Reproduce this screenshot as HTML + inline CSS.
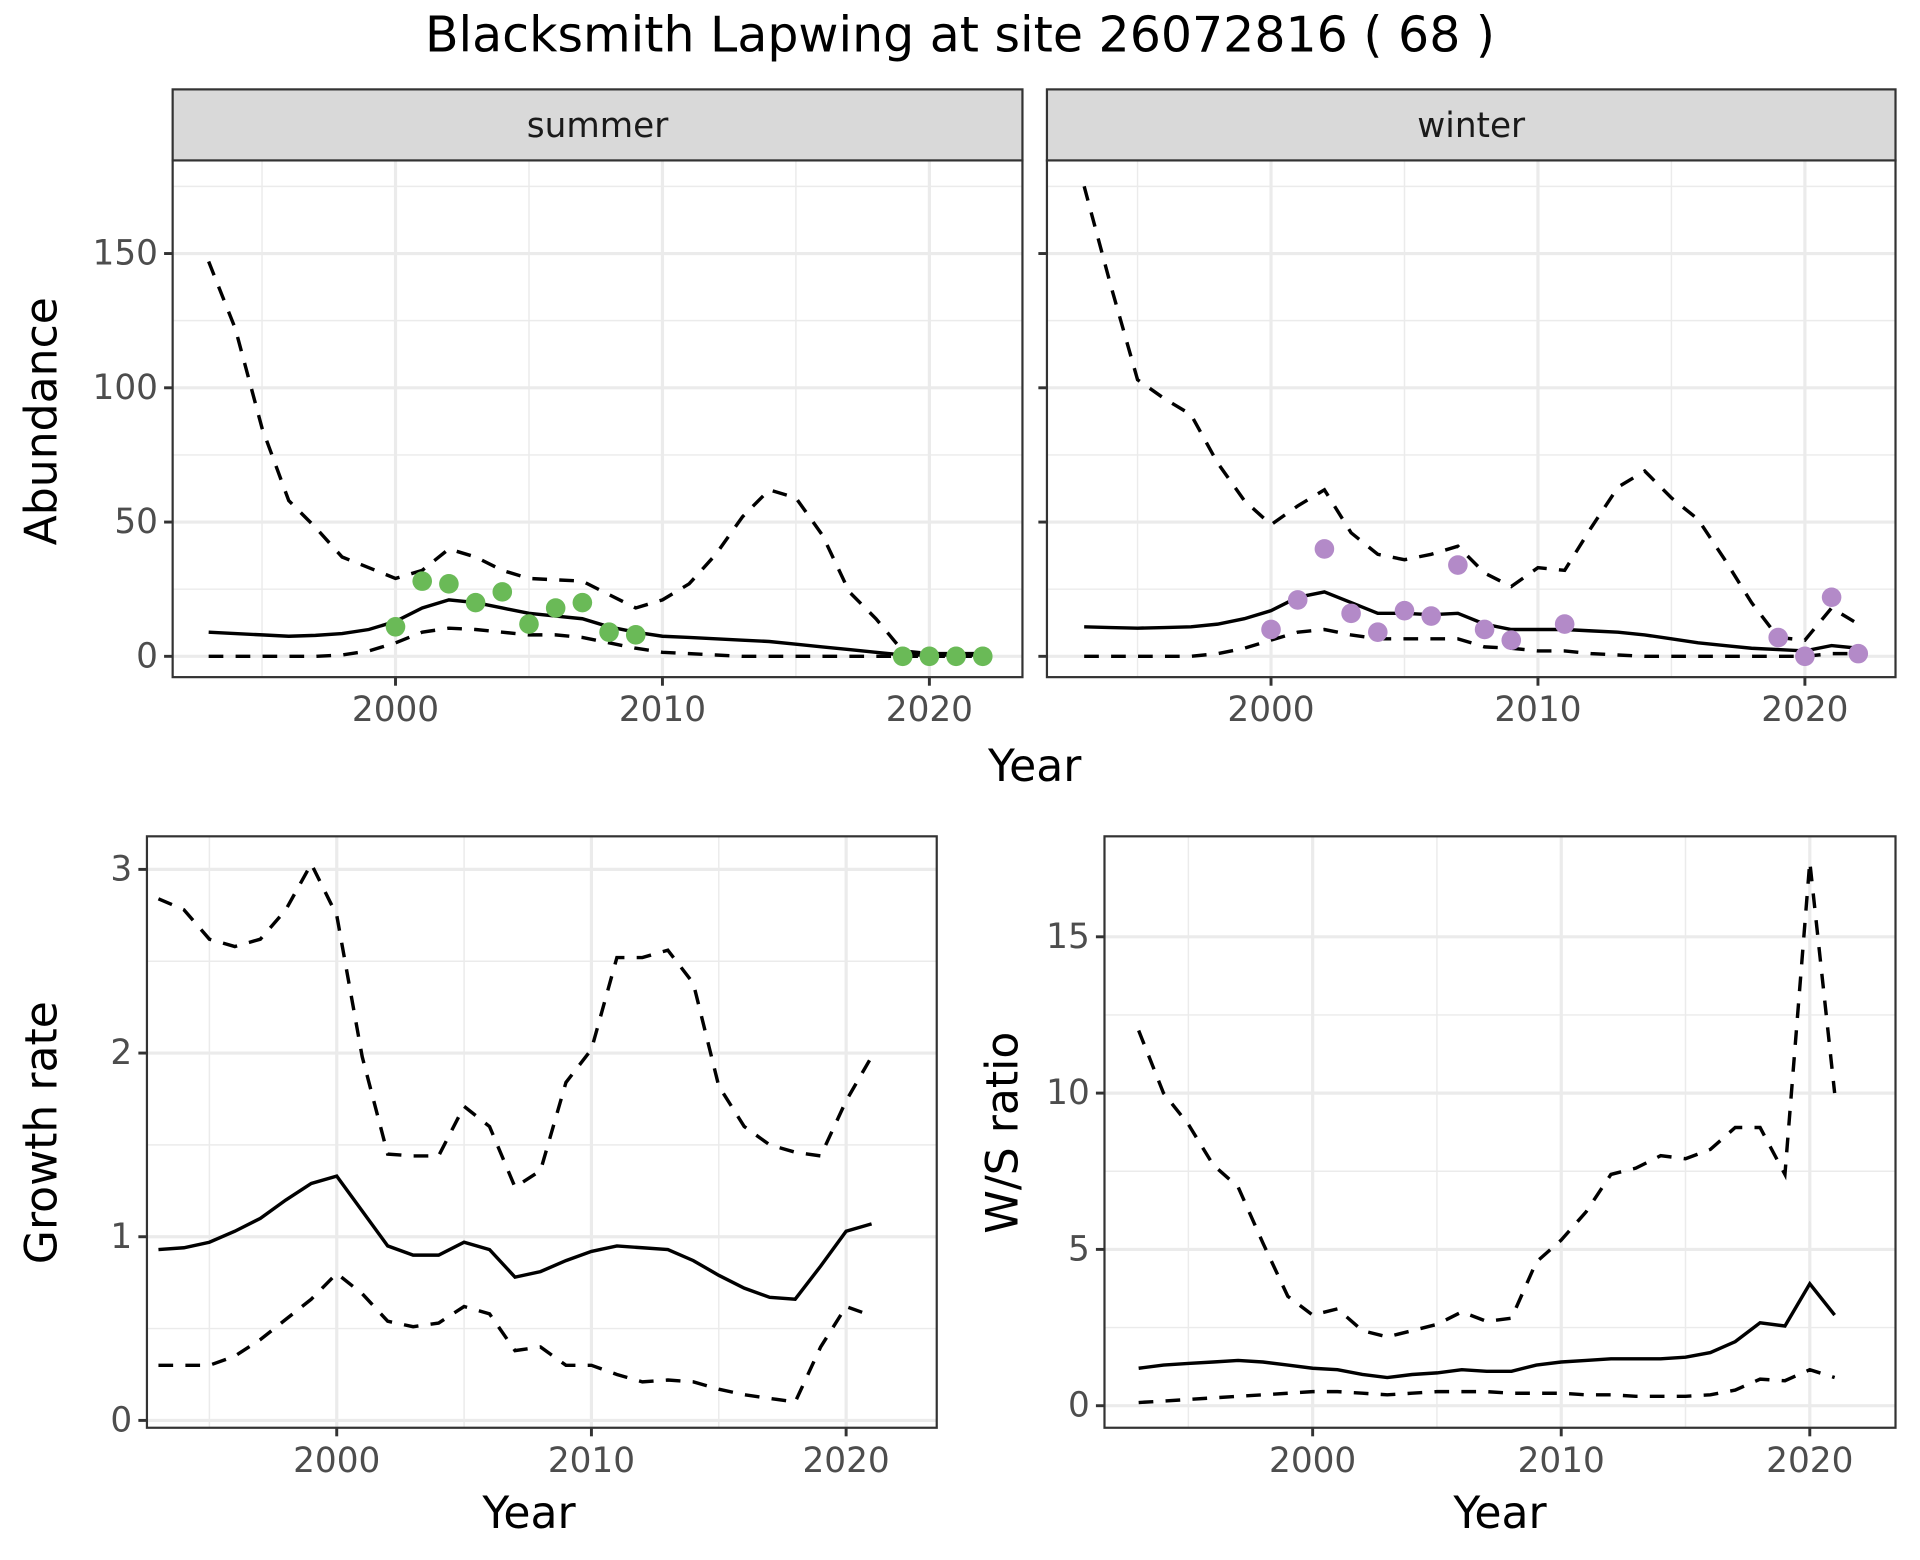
<!DOCTYPE html>
<html><head><meta charset="utf-8"><style>
html,body{margin:0;padding:0;background:#fff;}
svg{display:block;font-family:"DejaVu Sans","Liberation Sans",sans-serif;}
</style></head><body>
<svg id="chart" width="1920" height="1560" viewBox="0 0 1568 1274" preserveAspectRatio="none">
<text x="784" y="42" font-size="40" text-anchor="middle" fill="#000">Blacksmith Lapwing at site 26072816 ( 68 )</text>
</svg>
<script>
const yearsAb = [1993,1994,1995,1996,1997,1998,1999,2000,2001,2002,2003,2004,2005,2006,2007,2008,2009,2010,2011,2012,2013,2014,2015,2016,2017,2018,2019,2020,2021,2022];
const summerMean = [9,8.5,8,7.5,7.8,8.5,10,13,18,21,20,18,16,15,14,11,9,7.5,7,6.5,6,5.5,4.5,3.5,2.5,1.5,0.5,0.5,0.5,0.5];
const summerUpper = [147,122,85,58,48,37,33,29,32,40,37,32,29,28.5,28,23,18,21,27,38,52,62,59,45,24,14,2,1,1,1];
const summerLower = [0,0,0,0,0,0.5,2,5,9,10.5,10,9,8,8,7,5,3,1.5,1,0.5,0,0,0,0,0,0,0,0,0,0];
const summerObsYears = [2000,2001,2002,2003,2004,2005,2006,2007,2008,2009,2019,2020,2021,2022];
const summerObs = [11,28,27,20,24,12,18,20,9,8,0,0,0,0];
const winterMean = [11,10.7,10.5,10.7,11,12,14,17,22,24,20,16,16,15.5,16,12,10,10,10,9.5,9,8,6.5,5,4,3,2.5,2,4,3];
const winterUpper = [175,138,103,96,90,72,58,49,56,62,46,38,36,38,41,31,26,33,32,48,63,69,59,51,36,20,7,6,18,12];
const winterLower = [0,0,0,0,0,1,3,6,9,10,8,6.5,6.5,6.5,6.5,3.5,3,2,2,1,0.5,0,0,0,0,0,0,0,1,1];
const winterObsYears = [2000,2001,2002,2003,2004,2005,2006,2007,2008,2009,2011,2019,2020,2021,2022];
const winterObs = [10,21,40,16,9,17,15,34,10,6,12,7,0,22,1];
const yearsR = [1993,1994,1995,1996,1997,1998,1999,2000,2001,2002,2003,2004,2005,2006,2007,2008,2009,2010,2011,2012,2013,2014,2015,2016,2017,2018,2019,2020,2021];
const growthMean = [0.93,0.94,0.97,1.03,1.10,1.20,1.29,1.33,1.14,0.95,0.90,0.90,0.97,0.93,0.78,0.81,0.87,0.92,0.95,0.94,0.93,0.87,0.79,0.72,0.67,0.66,0.84,1.03,1.07];
const growthUpper = [2.84,2.78,2.62,2.58,2.62,2.78,3.03,2.75,1.98,1.45,1.44,1.44,1.71,1.60,1.27,1.36,1.84,2.02,2.52,2.52,2.56,2.38,1.82,1.60,1.50,1.46,1.44,1.74,1.98];
const growthLower = [0.30,0.30,0.30,0.35,0.44,0.55,0.66,0.80,0.69,0.54,0.51,0.53,0.62,0.58,0.38,0.40,0.30,0.30,0.25,0.21,0.22,0.21,0.17,0.14,0.12,0.10,0.40,0.62,0.57];
const ratioMean = [1.2,1.3,1.35,1.4,1.45,1.4,1.3,1.2,1.15,1.0,0.9,1.0,1.05,1.15,1.1,1.1,1.3,1.4,1.45,1.5,1.5,1.5,1.55,1.7,2.05,2.65,2.55,3.9,2.9];
const ratioUpper = [12,10,9,7.7,7,5.2,3.5,2.9,3.1,2.4,2.2,2.4,2.6,3.0,2.7,2.8,4.6,5.3,6.2,7.4,7.6,8.0,7.9,8.2,8.9,8.9,7.4,17.4,10];
const ratioLower = [0.1,0.15,0.2,0.25,0.3,0.35,0.4,0.45,0.45,0.4,0.35,0.4,0.45,0.45,0.45,0.4,0.4,0.4,0.35,0.35,0.3,0.3,0.3,0.35,0.5,0.85,0.8,1.15,0.9];
const xTicks = [2000,2010,2020];
const xMinor = [1995,2005,2015];
const abTicks = [0,50,100,150];
const abMinor = [25,75,125,175];
const grTicks = [0,1,2,3];
const grMinor = [0.5,1.5,2.5];
const raTicks = [0,5,10,15];
const raMinor = [2.5,7.5,12.5];

const NS="http://www.w3.org/2000/svg";
const svg=document.getElementById('chart');
function mk(tag,attrs,parent){const e=document.createElementNS(NS,tag);for(const k in attrs)e.setAttribute(k,attrs[k]);(parent||svg).appendChild(e);return e;}

function panel(p){
  const g=mk('g',{});
  
  
  const sx=v=>p.x0+(v-p.xr0)*p.xs, sy=v=>p.y0-(v-p.yr0)*p.ys;
  mk('rect',{x:p.l,y:p.t,width:p.r-p.l,height:p.b-p.t,fill:'#fff'},g);
  p.yMinor.forEach(v=>{const y=sy(v);if(y>p.t&&y<p.b)mk('line',{x1:p.l,x2:p.r,y1:y,y2:y,stroke:'#ebebeb','stroke-width':1.2},g);});
  xMinor.forEach(v=>mk('line',{x1:sx(v),x2:sx(v),y1:p.t,y2:p.b,stroke:'#ebebeb','stroke-width':1.2},g));
  p.yTicks.forEach(v=>mk('line',{x1:p.l,x2:p.r,y1:sy(v),y2:sy(v),stroke:'#ebebeb','stroke-width':2.6},g));
  xTicks.forEach(v=>mk('line',{x1:sx(v),x2:sx(v),y1:p.t,y2:p.b,stroke:'#ebebeb','stroke-width':2.6},g));
  const line=(ys,xs,dash,nm)=>{
    const d=ys.map((v,i)=>(i?'L':'M')+sx(xs[i]).toFixed(1)+','+sy(v).toFixed(1)).join('');
    const e=mk('path',{d:d,fill:'none',stroke:'#000','stroke-width':2.8,'stroke-dasharray':dash?'12,10':'none'},g);
    
    
  };
  line(p.upper,p.xs_,true,'upper-bound-line');
  line(p.lower,p.xs_,true,'lower-bound-line');
  line(p.mean,p.xs_,false,'mean-line');
  if(p.obs){p.obs.forEach((v,i)=>{
    const c=mk('circle',{cx:sx(p.obsX[i]),cy:sy(v),r:8,fill:p.color},g);
    
    
  });}
  mk('rect',{x:p.l,y:p.t,width:p.r-p.l,height:p.b-p.t,fill:'none',stroke:'#333','stroke-width':1.8},g);
  p.yTicks.forEach(v=>{
    mk('line',{x1:p.l-7,x2:p.l,y1:sy(v),y2:sy(v),stroke:'#333','stroke-width':2.4},g);
    if(p.showY){const t=mk('text',{x:p.l-12,y:sy(v)+9,'font-size':28,'text-anchor':'end',fill:'#4d4d4d'},g);t.textContent=v;
    }
  });
  xTicks.forEach(v=>{
    mk('line',{x1:sx(v),x2:sx(v),y1:p.b,y2:p.b+7,stroke:'#333','stroke-width':2.4},g);
    const t=mk('text',{x:sx(v),y:p.b+36,'font-size':28,'text-anchor':'middle',fill:'#4d4d4d'},g);t.textContent=v;
    
  });
  if(p.strip){
    mk('rect',{x:p.l,y:73,width:p.r-p.l,height:58,fill:'#d9d9d9',stroke:'#333','stroke-width':1.8},g);
    const t=mk('text',{x:(p.l+p.r)/2,y:112,'font-size':28,'text-anchor':'middle',fill:'#1a1a1a'},g);t.textContent=p.strip;
    
  }
}
panel({name:'summer-panel',l:141,r:835,t:131,b:553,x0:323,xr0:2000,xs:21.8,y0:536,yr0:0,ys:2.193,
  yTicks:abTicks,yMinor:abMinor,showY:true,xs_:yearsAb,mean:summerMean,upper:summerUpper,lower:summerLower,
  obs:summerObs,obsX:summerObsYears,color:'#6aba57',strip:'summer'});
panel({name:'winter-panel',l:855,r:1548,t:131,b:553,x0:1038,xr0:2000,xs:21.8,y0:536,yr0:0,ys:2.193,
  yTicks:abTicks,yMinor:abMinor,showY:false,xs_:yearsAb,mean:winterMean,upper:winterUpper,lower:winterLower,
  obs:winterObs,obsX:winterObsYears,color:'#b38ac8',strip:'winter'});
panel({name:'growth-rate-panel',l:120,r:765,t:683,b:1166,x0:275,xr0:2000,xs:20.8,y0:1160,yr0:0,ys:150,
  yTicks:grTicks,yMinor:grMinor,showY:true,xs_:yearsR,mean:growthMean,upper:growthUpper,lower:growthLower});
panel({name:'ws-ratio-panel',l:902,r:1548,t:683,b:1166,x0:1072,xr0:2000,xs:20.3,y0:1148,yr0:0,ys:25.53,
  yTicks:raTicks,yMinor:raMinor,showY:true,xs_:yearsR,mean:ratioMean,upper:ratioUpper,lower:ratioLower});

function label(txt,x,y,rot,nm){
  const t=mk('text',{x:x,y:y,'font-size':36,'text-anchor':'middle',fill:'#000',transform:rot?`rotate(-90 ${x} ${y})`:''});
  t.textContent=txt;
  
  
}
label('Year',845,638,false,'top-x-axis-title');
label('Abundance',46,344,true,'abundance-y-axis-title');
label('Year',432,1248,false,'growth-x-axis-title');
label('Growth rate',46,925,true,'growth-y-axis-title');
label('Year',1225,1248,false,'ratio-x-axis-title');
label('W/S ratio',831,925,true,'ratio-y-axis-title');
</script>
</body></html>
